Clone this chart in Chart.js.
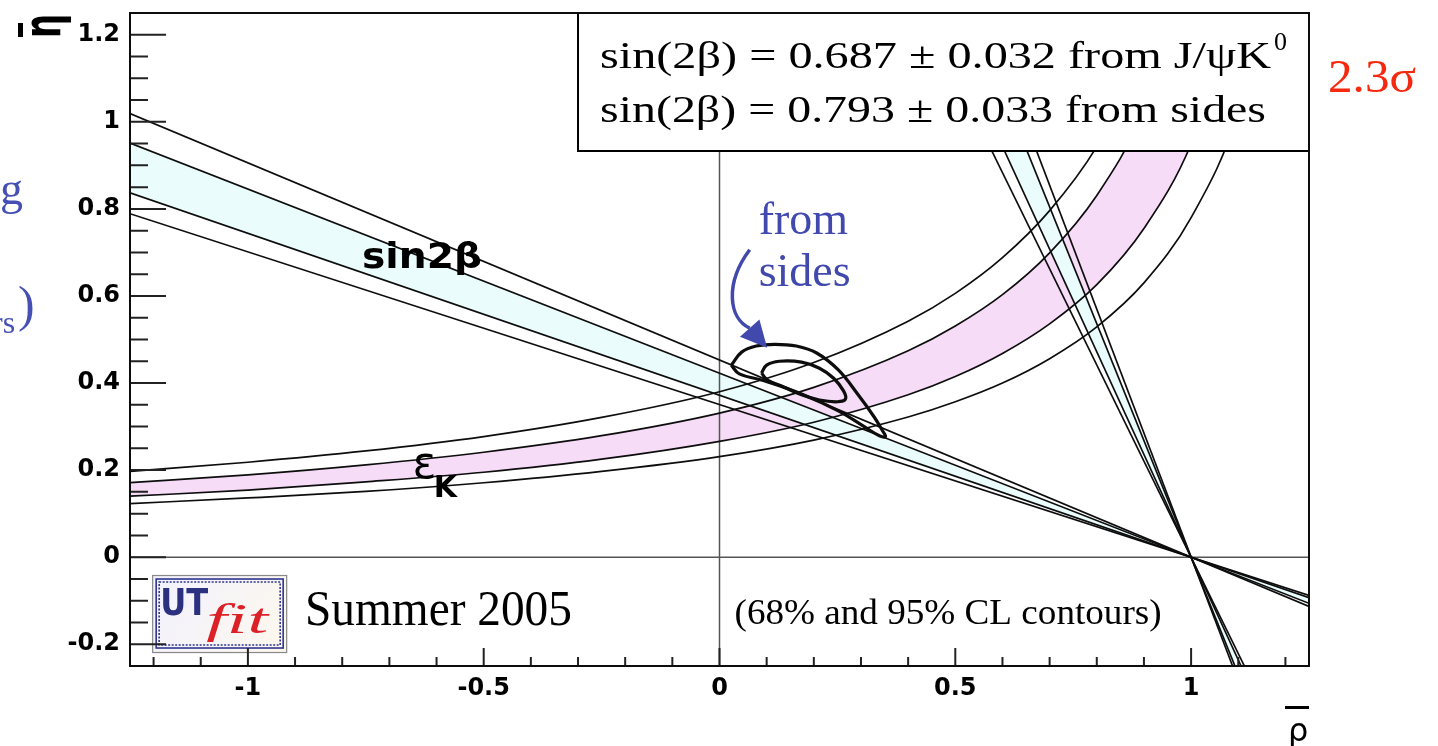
<!DOCTYPE html>
<html>
<head>
<meta charset="utf-8">
<title>UTfit rho-eta plane, Summer 2005</title>
<script src="https://cdn.jsdelivr.net/npm/chart.js@4.4.1/dist/chart.umd.min.js"></script>
<style>
  html, body { margin: 0; padding: 0; background: #fff; }
  #wrap { position: relative; width: 1438px; height: 746px; overflow: hidden; }
</style>
</head>
<body>
<div id="wrap"><canvas id="utChart" width="1438" height="746"></canvas></div>
<script>
// axis tick labels
const rhoTicks = [-1, -0.5, 0, 0.5, 1];
const etaTicks = [-0.2, 0, 0.2, 0.4, 0.6, 0.8, 1, 1.2];

// eps_K hyperbolae (68% band inside, 95% lines outside), common rho grid
const epsRho = [-1.25, -1, -0.75, -0.5, -0.25, 0, 0.2, 0.4, 0.5, 0.6, 0.7, 0.8, 0.9, 1.0, 1.1, 1.2];
const epsOuterHigh = [0.197, 0.218, 0.244, 0.277, 0.321, 0.380, 0.447, 0.542, 0.606, 0.688, 0.796, 0.943, 1.156, 1.50, 2.12, 3.60];
const epsInnerHigh = [0.171, 0.189, 0.212, 0.241, 0.279, 0.331, 0.390, 0.474, 0.531, 0.603, 0.699, 0.831, 1.023, 1.33, 1.91, 3.37];
const epsInnerLow = [0.140, 0.154, 0.173, 0.195, 0.225, 0.266, 0.310, 0.373, 0.415, 0.468, 0.536, 0.626, 0.755, 0.949, 1.28, 1.95];
const epsOuterLow = [0.123, 0.136, 0.151, 0.171, 0.197, 0.231, 0.269, 0.322, 0.357, 0.400, 0.456, 0.529, 0.630, 0.780, 1.022, 1.48];

// sin2beta from J/psi K0: rays through (1, 0), shallow solution
const betaRho = [-1.25, 1.25];
const betaOuterHigh = [1.019, -0.113];
const betaInnerHigh = [0.951, -0.106];
const betaInnerLow = [0.837, -0.093];
const betaOuterLow = [0.789, -0.088];

// second (steep) solution, rho at the top and bottom of the frame
const steepEta = [1.25, -0.25];
const steepOuterA = [0.434, 1.113];
const steepInnerA = [0.470, 1.106];
const steepInnerB = [0.534, 1.093];
const steepOuterB = [0.561, 1.088];

// fit from the sides only: 95% and 68% contours
const sidesOuterRho = [0.025, 0.047, 0.078, 0.117, 0.163, 0.206, 0.252, 0.294, 0.328, 0.347, 0.352, 0.339, 0.311, 0.252, 0.174, 0.089, 0.042, 0.025];
const sidesOuterEta = [0.441, 0.471, 0.485, 0.489, 0.485, 0.469, 0.430, 0.373, 0.322, 0.288, 0.277, 0.279, 0.297, 0.336, 0.375, 0.407, 0.421, 0.441];
const sidesInnerRho = [0.089, 0.100, 0.127, 0.174, 0.212, 0.242, 0.263, 0.267, 0.250, 0.212, 0.174, 0.136, 0.102, 0.089];
const sidesInnerEta = [0.423, 0.441, 0.450, 0.448, 0.434, 0.411, 0.382, 0.363, 0.357, 0.361, 0.373, 0.391, 0.407, 0.423];

const ink = "#0d0d0d";
const bandPink = "#f6dcf6";
const bandCyan = "#eafcfc";
const noteBlue = "#4249ad";
const serif = '"Liberation Serif", "Times New Roman", serif';
const sans = '"DejaVu Sans", sans-serif';

const line = (label, xs, ys, extra = {}) => ({
  label,
  data: xs.map((x, i) => ({ x, y: ys[i] })),
  showLine: true,
  pointRadius: 0,
  borderColor: ink,
  borderWidth: 1.7,
  fill: false,
  ...extra
});

const monotone = { cubicInterpolationMode: "monotone" };

const datasets = [
  line("sides 95%", sidesOuterRho, sidesOuterEta, { borderWidth: 3.2, tension: 0.4 }),
  line("sides 68%", sidesInnerRho, sidesInnerEta, { borderWidth: 3.2, tension: 0.4 }),
  line("sin2b 95% high", betaRho, betaOuterHigh),
  line("sin2b 68% high", betaRho, betaInnerHigh, { fill: "+1", backgroundColor: bandCyan }),
  line("sin2b 68% low", betaRho, betaInnerLow),
  line("sin2b 95% low", betaRho, betaOuterLow),
  line("sin2b' 95% a", steepOuterA, steepEta),
  line("sin2b' 68% a", steepInnerA, steepEta, { fill: "+1", backgroundColor: bandCyan }),
  line("sin2b' 68% b", steepInnerB, steepEta),
  line("sin2b' 95% b", steepOuterB, steepEta),
  line("epsK 95% high", epsRho, epsOuterHigh, monotone),
  line("epsK 68% high", epsRho, epsInnerHigh, { ...monotone, fill: "+1", backgroundColor: bandPink }),
  line("epsK 68% low", epsRho, epsInnerLow, monotone),
  line("epsK 95% low", epsRho, epsOuterLow, monotone)
];

const tickLabel = v => String(+v.toFixed(2));

// text squeezed or stretched to a given width (the exported canvas was not square)
function fitText(ctx, text, x, y, font, width) {
  ctx.save();
  ctx.font = font;
  const k = width / ctx.measureText(text).width;
  ctx.translate(x, y);
  ctx.scale(k, 1);
  ctx.fillText(text, 0, 0);
  ctx.restore();
}

function drawArrow(ctx, px, py) {
  // curved pointer from the "from sides" note down to the contours
  ctx.strokeStyle = noteBlue;
  ctx.fillStyle = noteBlue;
  ctx.lineWidth = 3.5;
  ctx.beginPath();
  ctx.moveTo(px(0.064), py(0.706));
  ctx.bezierCurveTo(px(0.011), py(0.629), px(0.019), py(0.549), px(0.064), py(0.526));
  ctx.stroke();
  const tx = px(0.101), ty = py(0.481);
  const bx = px(0.064), by = py(0.526);
  const dx = tx - bx, dy = ty - by, len = Math.hypot(dx, dy);
  const nx = -dy / len * 13, ny = dx / len * 13;
  ctx.beginPath();
  ctx.moveTo(tx, ty);
  ctx.lineTo(bx + nx, by + ny);
  ctx.lineTo(bx - nx, by - ny);
  ctx.closePath();
  ctx.fill();
}

function drawLogo(ctx, left, top) {
  const w = 135, h = 78;
  const g = ctx.createLinearGradient(left, top, left + w, top + h);
  g.addColorStop(0, "#f2f2ff");
  g.addColorStop(1, "#fdf7ec");
  ctx.fillStyle = g;
  ctx.fillRect(left, top, w, h);
  ctx.strokeStyle = "#888";
  ctx.lineWidth = 1.2;
  ctx.strokeRect(left + 0.5, top + 0.5, w - 1, h - 1);
  ctx.strokeStyle = "#2e3590";
  ctx.lineWidth = 1.6;
  ctx.strokeRect(left + 4, top + 4, w - 8, h - 9);
  ctx.setLineDash([2, 1.5]);
  ctx.strokeRect(left + 7, top + 7, w - 14, h - 15);
  ctx.setLineDash([]);
  ctx.fillStyle = "#2b3180";
  fitText(ctx, "UT", left + 8, top + 40, `bold 37px ${sans}`, 48);
  ctx.fillStyle = "#dc2027";
  fitText(ctx, "fit", left + 54, top + 58, `italic 42px ${serif}`, 62);
}

const decorations = {
  id: "decorations",
  beforeDatasetsDraw(chart) {
    const { ctx, chartArea: a, scales: { x, y } } = chart;
    const x0 = x.getPixelForValue(0), y0 = y.getPixelForValue(0);
    ctx.save();
    ctx.strokeStyle = "#555";
    ctx.lineWidth = 1.5;
    ctx.beginPath();
    ctx.moveTo(x0, a.top);
    ctx.lineTo(x0, a.bottom);
    ctx.moveTo(a.left, y0);
    ctx.lineTo(a.right, y0);
    ctx.stroke();
    ctx.restore();
  },
  afterDatasetsDraw(chart) {
    const { ctx, chartArea: a, scales: { x, y } } = chart;
    const px = v => x.getPixelForValue(v), py = v => y.getPixelForValue(v);
    ctx.save();
    drawArrow(ctx, px, py);

    // band labels
    ctx.fillStyle = "#000";
    fitText(ctx, "sin2β", px(-0.758), py(0.665), `bold 36px ${sans}`, 120);
    ctx.font = `44px ${sans}`;
    ctx.fillText("ε", px(-0.651), py(0.183));
    ctx.font = `bold 30px ${sans}`;
    ctx.fillText("K", px(-0.606), py(0.139));

    ctx.fillStyle = noteBlue;
    ctx.font = `46px ${serif}`;
    ctx.fillText("from", px(0.083), py(0.743));
    ctx.fillText("sides", px(0.083), py(0.624));

    ctx.fillStyle = "#000";
    fitText(ctx, "Summer 2005", px(-0.879), py(-0.155), `50px ${serif}`, 267);
    fitText(ctx, "(68% and 95% CL contours)", px(0.032), py(-0.153), `35px ${serif}`, 427);

    drawLogo(ctx, px(-1.203), py(-0.041));

    // inward ticks, ROOT style
    ctx.strokeStyle = "#222";
    ctx.lineWidth = 2;
    ctx.beginPath();
    for (let i = -4; i <= 24; i++) {
      const v = py(i / 20), len = i % 4 === 0 ? 36 : 18;
      ctx.moveTo(a.left, v);
      ctx.lineTo(a.left + len, v);
    }
    for (let i = -12; i <= 12; i++) {
      const v = px(i / 10), len = i % 5 === 0 ? 18 : 9;
      ctx.moveTo(v, a.bottom);
      ctx.lineTo(v, a.bottom - len);
    }
    ctx.stroke();

    // result box
    const bx = px(-0.3), bb = py(0.933);
    ctx.fillStyle = "#fff";
    ctx.fillRect(bx, a.top, a.right - bx, bb - a.top);
    ctx.strokeStyle = "#000";
    ctx.lineWidth = 2;
    ctx.strokeRect(bx, a.top, a.right - bx, bb - a.top);
    ctx.fillStyle = "#000";
    fitText(ctx, "sin(2β) = 0.687 ± 0.032 from J/ψK", bx + 22, a.top + 55, `38px ${serif}`, 671);
    fitText(ctx, "0", bx + 696, a.top + 37, `25px ${serif}`, 13);
    fitText(ctx, "sin(2β) = 0.793 ± 0.033 from sides", bx + 22, a.top + 109, `38px ${serif}`, 666);

    // frame
    ctx.strokeStyle = ink;
    ctx.lineWidth = 2;
    ctx.strokeRect(a.left, a.top, a.right - a.left, a.bottom - a.top);
    ctx.restore();
  },
  afterDraw(chart) {
    const { ctx } = chart;
    ctx.save();
    ctx.fillStyle = "#000";
    // eta-bar axis title, rotated
    ctx.save();
    ctx.translate(60, 38);
    ctx.rotate(-Math.PI / 2);
    ctx.scale(1, 1.5);
    ctx.font = `bold 34px ${sans}`;
    ctx.fillText("η", 0, 0);
    ctx.restore();
    ctx.fillRect(18, 23, 5, 14);
    // rho-bar axis title
    ctx.font = `32px ${sans}`;
    ctx.fillText("ρ", 1288, 741);
    ctx.fillRect(1285, 706, 24, 3);

    // significance of the difference
    ctx.fillStyle = "#f5290f";
    fitText(ctx, "2.3σ", 1328, 92, `47px ${serif}`, 88);

    // margin notes running in from the left
    ctx.fillStyle = "#4650b4";
    ctx.font = `46px ${serif}`;
    ctx.fillText("g", 0, 204);
    ctx.font = `50px ${serif}`;
    ctx.fillText(")", 18, 321);
    ctx.font = `32px ${serif}`;
    ctx.fillText("rs", -8, 333);
    ctx.restore();
  }
};

new Chart(document.getElementById("utChart"), {
  type: "scatter",
  data: { datasets },
  options: {
    responsive: false,
    animation: false,
    events: [],
    layout: { padding: { top: 13, right: 129, left: 0, bottom: 0 } },
    elements: { line: { capBezierPoints: false } },
    plugins: {
      legend: { display: false },
      tooltip: { enabled: false },
      filler: { drawTime: "beforeDatasetsDraw" }
    },
    scales: {
      x: {
        type: "linear",
        min: -1.25,
        max: 1.25,
        grid: { display: false, drawTicks: false },
        border: { display: false },
        ticks: { padding: 8, maxRotation: 0, color: "#000", font: { family: "DejaVu Sans", weight: "bold", size: 24 }, callback: tickLabel },
        afterBuildTicks: s => { s.ticks = rhoTicks.map(value => ({ value })); },
        afterFit: s => { s.height = 80; s.paddingLeft = 0; s.paddingRight = 0; }
      },
      y: {
        type: "linear",
        min: -0.25,
        max: 1.25,
        grid: { display: false, drawTicks: false },
        border: { display: false },
        ticks: { padding: 10, color: "#000", font: { family: "DejaVu Sans", weight: "bold", size: 24 }, callback: tickLabel },
        afterBuildTicks: s => { s.ticks = etaTicks.map(value => ({ value })); },
        afterFit: s => { s.width = 130; s.paddingTop = 0; s.paddingBottom = 0; }
      }
    }
  },
  plugins: [decorations]
});
</script>
</body>
</html>
